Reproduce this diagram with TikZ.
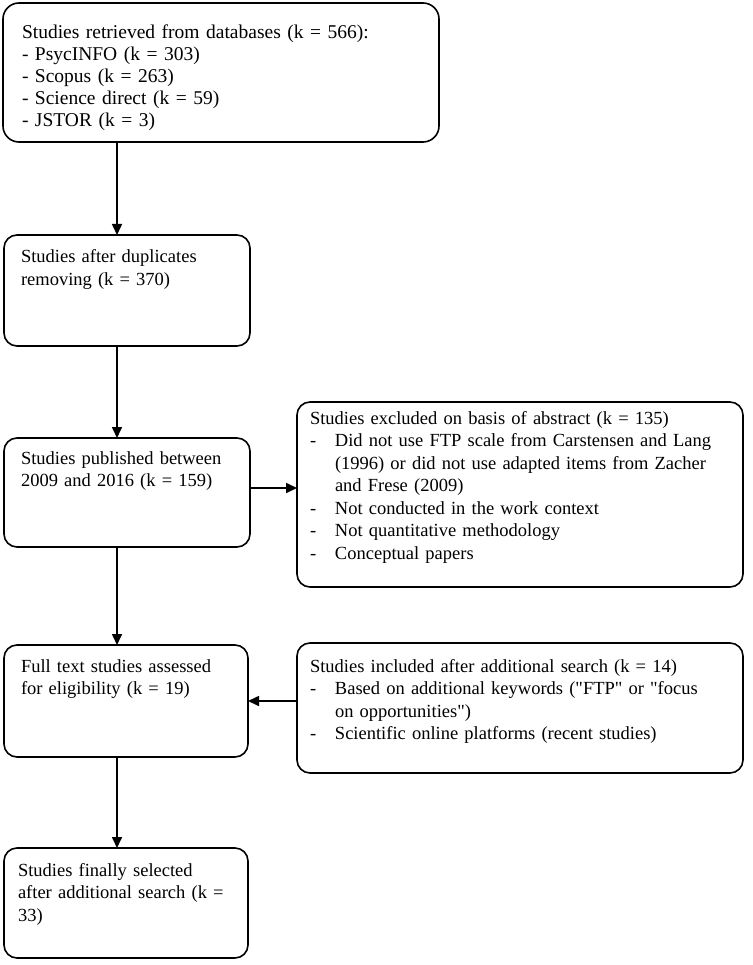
\documentclass[tikz,border=0pt]{standalone}
\usepackage{fontspec}
\setmainfont{Liberation Serif}
\usetikzlibrary{arrows.meta}
\newcommand{\itemdash}{\makebox[25pt][l]{-}}
\newcommand{\itemgap}{\hspace*{25pt}}
\begin{document}
\begin{tikzpicture}[x = 1pt, y = -1pt,
        box/.style = {draw, line width = 1.6pt, rounded corners = 13pt, anchor = north west, align = left,
            inner xsep = 17pt, inner ysep = 4pt, outer sep = 0pt, font = \fontsize{18.5}{22.5}\selectfont},
        arr/.style = {line width = 1.6pt, -{Triangle[length = 11pt, width = 10pt]}}]
    \useasboundingbox (0,0) rectangle (752,965);
    \node[box, rounded corners = 16pt, inner xsep = 19pt, text width = 398pt, text height = 32pt, text depth = 99pt,
        font = \fontsize{19.5}{22}\selectfont] (b1) at (3,3)
        {Studies retrieved from databases (k = 566):\\
        - PsycINFO (k = 303)\\
        - Scopus (k = 263)\\
        - Science direct (k = 59)\\
        - JSTOR (k = 3)};
    \node[box, text width = 212pt, text height = 24pt, text depth = 79pt] (b2) at (4,235)
        {Studies after duplicates\\ removing (k = 370)};
    \node[box, text width = 212pt, text height = 22pt, text depth = 79pt] (b3) at (4,438)
        {Studies published between\\ 2009 and 2016 (k = 159)};
    \node[box, inner xsep = 13pt, text width = 420pt, text height = 18pt, text depth = 159pt] (b4) at (297,402)
        {Studies excluded on basis of abstract (k = 135)\\
        \itemdash Did not use FTP scale from Carstensen and Lang\\
        \itemgap (1996) or did not use adapted items from Zacher\\
        \itemgap and Frese (2009)\\
        \itemdash Not conducted in the work context\\
        \itemdash Not quantitative methodology\\
        \itemdash Conceptual papers};
    \node[box, text width = 210pt, text height = 23pt, text depth = 81pt] (b5) at (4,645)
        {Full text studies assessed\\ for eligibility (k = 19)};
    \node[box, inner xsep = 13pt, text width = 420pt, text height = 25pt, text depth = 97pt] (b6) at (297,643)
        {Studies included after additional search (k = 14)\\
        \itemdash Based on additional keywords (\textquotedbl FTP\textquotedbl{} or \textquotedbl focus\\
        \itemgap on opportunities\textquotedbl)\\
        \itemdash Scientific online platforms (recent studies)};
    \node[box, inner xsep = 14pt, text width = 216pt, text height = 24pt, text depth = 78pt] (b7) at (4,848)
        {Studies finally selected\\ after additional search (k =\\ 33)};
    \coordinate (spine) at (117,0);
    \draw[arr] (b1.south -| spine) -- (b2.north -| spine);
    \draw[arr] (b2.south -| spine) -- (b3.north -| spine);
    \draw[arr] (b3.south -| spine) -- (b5.north -| spine);
    \draw[arr] (b5.south -| spine) -- (b7.north -| spine);
    \draw[arr] ([yshift = 4.5pt]b3.east) -- ([yshift = 4.5pt]b3.east -| b4.west);
    \draw[arr] (b6.west |- b5.east) -- (b5.east);
\end{tikzpicture}
\end{document}
